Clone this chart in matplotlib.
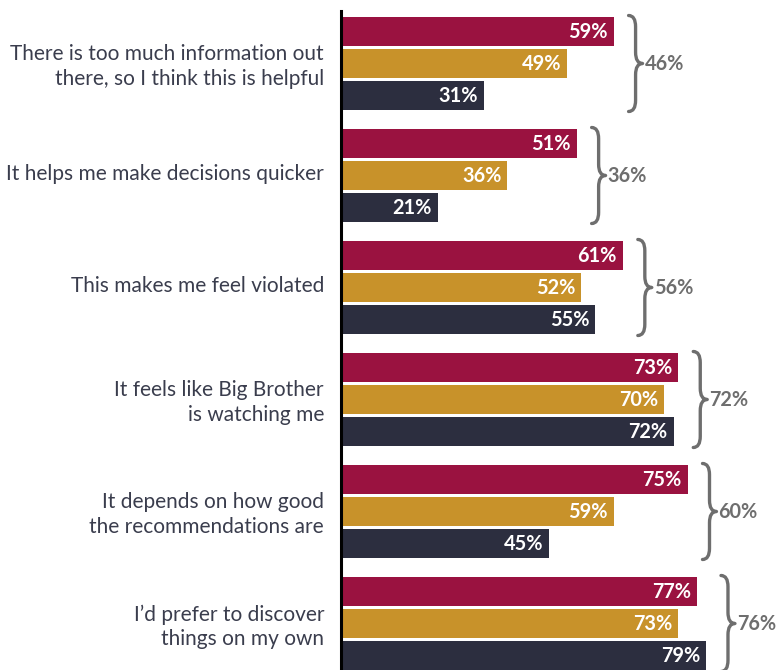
import matplotlib
matplotlib.use("Agg")
import matplotlib.pyplot as plt
from matplotlib.path import Path
from matplotlib.patches import PathPatch

# Survey statements and responses (%) for three groups, plus overall totals
statements = [
    "There is too much information out\nthere, so I think this is helpful",
    "It helps me make decisions quicker",
    "This makes me feel violated",
    "It feels like Big Brother\nis watching me",
    "It depends on how good\nthe recommendations are",
    "I\u2019d prefer to discover\nthings on my own",
]
series_a = [59, 51, 61, 73, 75, 77]
series_b = [49, 36, 52, 70, 59, 73]
series_c = [31, 21, 55, 72, 45, 79]
totals = [46, 36, 56, 72, 60, 76]

colors = ["#9A1240", "#C8922A", "#2C2E3F"]
brace_color = "#6E6E6E"
label_color = "#3A3D4D"

W, H, DPI = 784, 670, 100
fig = plt.figure(figsize=(W / DPI, H / DPI), dpi=DPI)
fig.patch.set_facecolor("white")

ax_left_px = 341
ax_top_px = 11
ax = fig.add_axes([ax_left_px / W, 0, 1 - ax_left_px / W, (H - ax_top_px) / H])

px_per_pct = 4.62
bar_pitch_px = 32.0
group_step = 3.5     # in bar-pitch units
bar_h = 29 / 32

ax.set_xlim(0, (W - ax_left_px) / px_per_pct)
first_center_px = 31.5
ax.set_ylim((H - first_center_px) / bar_pitch_px, -(first_center_px - ax_top_px) / bar_pitch_px)

pad_pct = 6 / px_per_pct
val_font = dict(family=["Lato", "DejaVu Sans"], fontweight="bold", fontsize=14.3)

for i, stmt in enumerate(statements):
    base = i * group_step
    vals = [series_a[i], series_b[i], series_c[i]]
    for j, v in enumerate(vals):
        y = base + j
        ax.barh(y, v, height=bar_h, color=colors[j], edgecolor="none")
        ax.text(v - pad_pct, y, f"{v}%", ha="right", va="center",
                color="white", **val_font)

    # statement label to the left of the axis
    y_off = 0.1 if "\n" in stmt else -0.05
    ax.text(-17 / px_per_pct, base + 1 + y_off, stmt, ha="right", va="center",
            fontsize=15, family=["Lato", "DejaVu Sans"], color=label_color,
            linespacing=1.28, clip_on=False)

    # curly brace grouping the three bars, with the overall value
    x0 = max(vals) + 15 / px_per_pct
    x1 = x0 + 7 / px_per_pct
    x2 = x0 + 14 / px_per_pct
    yt = base - 0.5
    yb = base + 2.5
    ym = base + 1
    r = 0.35
    verts = [
        (x0, yt), (x1, yt), (x1, yt + r),
        (x1, ym - r), (x1, ym), (x2, ym),
        (x1, ym), (x1, ym + r),
        (x1, yb - r), (x1, yb), (x0, yb),
    ]
    codes = [
        Path.MOVETO, Path.CURVE3, Path.CURVE3,
        Path.LINETO, Path.CURVE3, Path.CURVE3,
        Path.CURVE3, Path.CURVE3,
        Path.LINETO, Path.CURVE3, Path.CURVE3,
    ]
    ax.add_patch(PathPatch(Path(verts, codes), facecolor="none",
                           edgecolor=brace_color, lw=2.4,
                           capstyle="round", joinstyle="round"))
    ax.text(x2 + 2 / px_per_pct, ym, f"{totals[i]}%", ha="left", va="center",
            color=brace_color, clip_on=False, **val_font)

for side in ["top", "right", "bottom"]:
    ax.spines[side].set_visible(False)
ax.spines["left"].set_linewidth(2.2)
ax.spines["left"].set_color("black")
ax.set_xticks([])
ax.set_yticks([])
ax.patch.set_alpha(0)

fig.savefig("out.png", dpi=DPI, facecolor="white")
